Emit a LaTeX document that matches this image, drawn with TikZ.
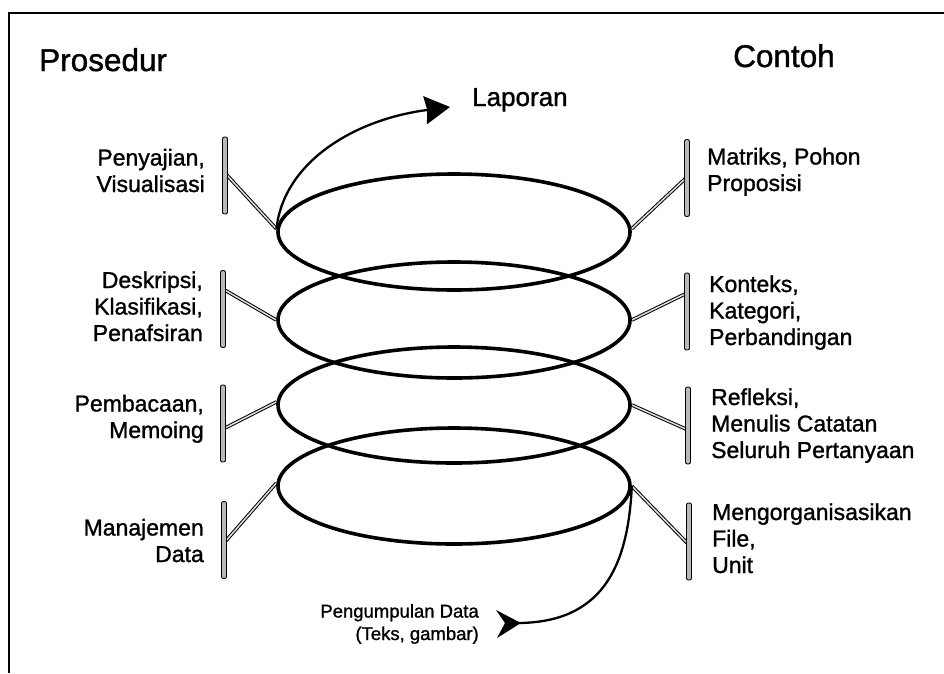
\documentclass[tikz,border=0pt]{standalone}
\usepackage{fontspec}
\setmainfont{Liberation Sans}[FakeBold=1.2]
\usetikzlibrary{shapes.geometric,arrows.meta,backgrounds}

\begin{document}
\begin{tikzpicture}[x=1pt,y=-1pt,
  ring/.style={ellipse, draw, line width=3.6pt, minimum width=352pt,
    minimum height=116pt, inner sep=0pt},
  bar/.style={rectangle, draw=black, fill=gray!55, line width=0.9pt,
    minimum width=5pt, minimum height=77pt, inner sep=0pt, rounded corners=2pt},
  link/.style={draw=black, line width=1pt, double=gray!25, double distance=1.5pt},
  lab/.style={font=\fontsize{23}{26.5}\selectfont, inner sep=0pt},
  labL/.style={lab, align=right, anchor=base east},
  labR/.style={lab, align=left, anchor=base west},
  head/.style={font=\fontsize{31.5}{36}\selectfont, inner sep=0pt, anchor=base west},
  flow/.style={line width=2.3pt}
]
\useasboundingbox (0,0) rectangle (944,673);

% frame
\draw[line width=2pt] (944,13) -- (9,13) -- (9,673);

% column titles
\node[head] (proc) at (39,71) {Prosedur};
\node[head] (ex) at (733,67) {Contoh};

% spiral loops
\node[ring] (e1) at (454,232) {};
\node[ring] (e2) at (454,320) {};
\node[ring] (e3) at (454,405) {};
\node[ring] (e4) at (454,486) {};

% brackets on the left
\node[bar] (bl1) at (225,175.5) {};
\node[bar] (bl2) at (223,309) {};
\node[bar] (bl3) at (223,423.5) {};
\node[bar] (bl4) at (224,540) {};
% brackets on the right
\node[bar] (br1) at (687,178) {};
\node[bar] (br2) at (687,311.5) {};
\node[bar] (br3) at (688,425.5) {};
\node[bar] (br4) at (689,541.5) {};

% procedures (anchored at the baseline of the last line)
\node[labL] (t1) at (205,192) {Penyajian,\\Visualisasi};
\node[labL] (t2) at (203,341) {Deskripsi,\\Klasifikasi,\\Penafsiran};
\node[labL] (t3) at (204,438) {Pembacaan,\\Memoing};
\node[labL] (t4) at (204,562) {Manajemen\\Data};

% examples
\node[labR] (u1) at (707,191) {Matriks, Pohon\\Proposisi};
\node[labR] (u2) at (709,345) {Konteks,\\Kategori,\\Perbandingan};
\node[labR] (u3) at (711,458) {Refleksi,\\Menulis Catatan\\Seluruh Pertanyaan};
\node[labR] (u4) at (712,573) {Mengorganisasikan\\File,\\Unit};

% start and end of the spiral
\node[font=\fontsize{26}{30}\selectfont, inner sep=0pt, anchor=base west] (lap) at (472,106) {Laporan};
\node[font=\fontsize{18.5}{22.5}\selectfont, inner sep=0pt, align=right, anchor=base east]
  (pd) at (479,640) {Pengumpulan Data\\(Teks, gambar)};

\coordinate (laptip) at (450,107);
\coordinate (pdtip) at (519,623);

\draw[flow, -{Stealth[length=25pt,width=28pt,inset=2pt]}]
  (e1.179) .. controls (283,165) and (350,120) .. (laptip);
\draw[flow] (e4.east) .. controls (628,570) and (600,622) .. (pdtip);
\fill[shift={(pdtip)}] (2,0) -- (-23,-13) -- (-14,0) -- (-22,15) -- cycle;

% double links between loops and brackets, kept under the shapes
\begin{pgfonlayer}{background}
  \fill[white] (0,0) rectangle (944,673);
  \draw[link] ([yshift=2.5pt]bl1.center) -- (e1.179);
  \draw[link] ([yshift=20pt]bl2.center) -- (e2.west);
  \draw[link] ([yshift=-5.5pt]bl3.center) -- (e3.179);
  \draw[link] ([yshift=-3pt]bl4.center) -- (e4.179);
  \draw[link] (e1.1) -- ([yshift=1pt]br1.center);
  \draw[link] (e2.east) -- ([yshift=18.5pt]br2.center);
  \draw[link] (e3.east) -- ([yshift=-4.5pt]br3.center);
  \draw[link] (e4.east) -- ([yshift=-3.5pt]br4.center);
\end{pgfonlayer}
\end{tikzpicture}
\end{document}
